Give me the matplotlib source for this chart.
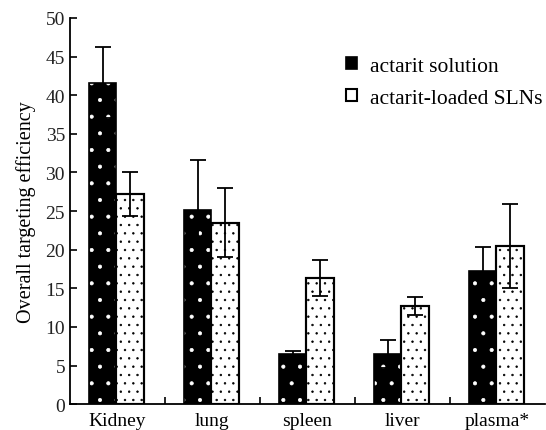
import matplotlib.pyplot as plt
import numpy as np
from matplotlib.patches import Patch

plt.rcParams['font.family'] = ['Liberation Serif', 'DejaVu Serif']
plt.rcParams['hatch.linewidth'] = 0.5

organs = ["Kidney", "lung", "spleen", "liver", "plasma*"]
solution = [41.6, 25.2, 6.5, 6.5, 17.3]
solution_err = [4.6, 6.4, 0.4, 1.8, 3.0]
sln = [27.2, 23.5, 16.3, 12.7, 20.5]
sln_err = [2.8, 4.5, 2.3, 1.2, 5.4]

fig = plt.figure(figsize=(5.46, 4.31), dpi=100)
ax = fig.add_axes([0.128, 0.06, 0.87, 0.896])

x = np.arange(len(organs))
w = 0.29
xs = x + 0.2
xl = x + 0.2 + w

# black bars with white dots, outline drawn on top
ax.bar(xs, solution, w, align='edge', color='black', edgecolor='white',
       hatch='.', linewidth=0, zorder=2)
ax.bar(xs, solution, w, align='edge', fill=False, edgecolor='black',
       linewidth=1.2, zorder=3)
ax.bar(xl, sln, w, align='edge', color='white', edgecolor='black',
       hatch='..', linewidth=1.5, zorder=2)
ax.bar(xl, sln, w, align='edge', fill=False, edgecolor='black',
       linewidth=1.5, zorder=3)

ax.errorbar(xs + w / 2, solution, yerr=solution_err, fmt='none',
            ecolor='black', elinewidth=1.3, capsize=6, capthick=1.3, zorder=4)
ax.errorbar(xl + w / 2, sln, yerr=sln_err, fmt='none',
            ecolor='black', elinewidth=1.3, capsize=6, capthick=1.3, zorder=4)

ax.set_xlim(0, 5)
ax.set_ylim(0, 50)
ax.set_yticks(range(0, 51, 5))
ax.set_xticks(x + 0.5)
ax.set_xticklabels(organs)
ax.set_xticks(np.arange(1, 5), minor=True)
ax.tick_params(axis='x', which='major', length=0, labelsize=14, pad=6)
ax.tick_params(axis='x', which='minor', direction='in', length=5, width=1.2)
ax.tick_params(axis='y', direction='in', length=5, width=1.2, labelsize=14,
               labelcolor='#222222')
ax.spines['top'].set_visible(False)
ax.spines['right'].set_visible(False)
ax.spines['left'].set_linewidth(1.3)
ax.spines['bottom'].set_linewidth(1.3)
ax.set_ylabel("Overall targeting efficiency", fontsize=14.5, labelpad=7)

handles = [Patch(facecolor='black', edgecolor='black', linewidth=1.2),
           Patch(facecolor='white', edgecolor='black', linewidth=1.5)]
ax.legend(handles, ["actarit solution", "actarit-loaded SLNs"],
          loc='upper left', bbox_to_anchor=(0.54, 0.95), frameon=False,
          fontsize=15.5, handlelength=0.52, handleheight=0.52,
          handletextpad=0.6, labelspacing=0.6)

fig.savefig("out.png")
